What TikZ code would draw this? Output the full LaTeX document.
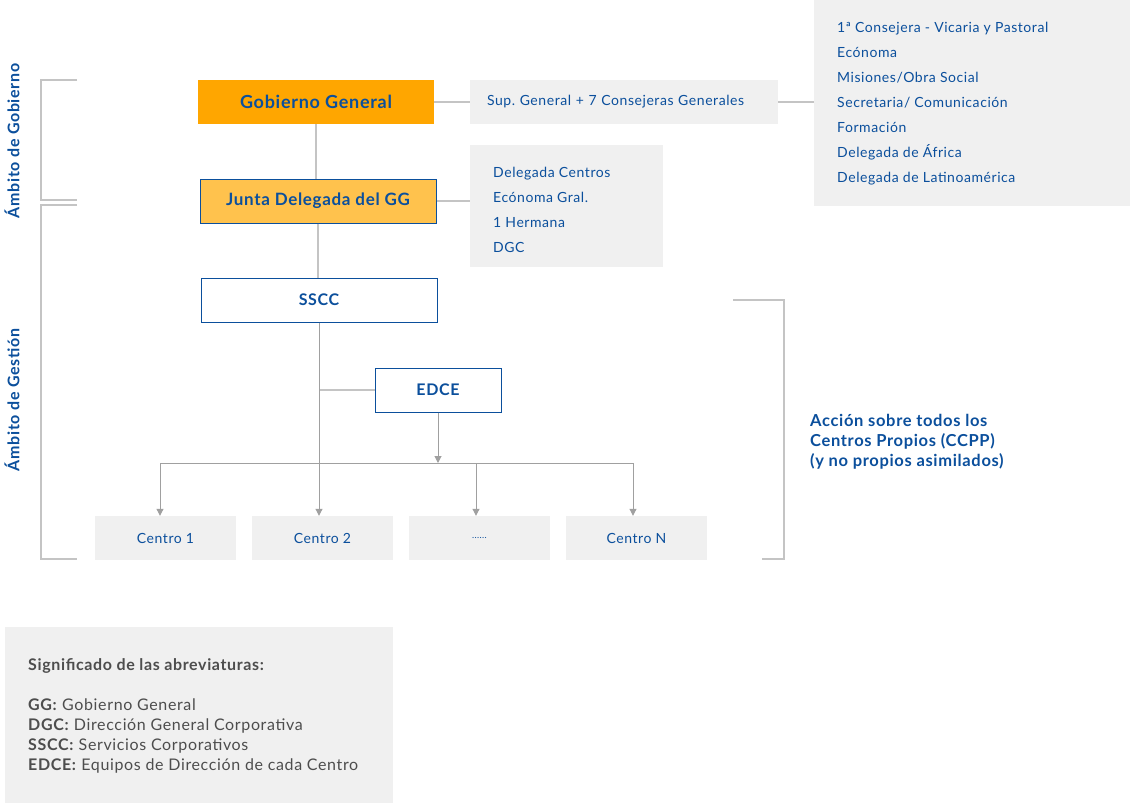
\documentclass[tikz,border=0pt]{standalone}
\usepackage{fontspec}
\setmainfont{Lato}[LetterSpace=4]
\frenchspacing
\usetikzlibrary{arrows.meta}
\definecolor{tblue}{HTML}{0B4F9C}
\definecolor{orangeA}{HTML}{FFA600}
\definecolor{orangeB}{HTML}{FFC24D}
\definecolor{boxgray}{HTML}{F0F0F0}
\definecolor{linegray}{HTML}{C4C4C4}
\definecolor{arrgray}{HTML}{A0A0A0}
\definecolor{legtext}{HTML}{4D4D4D}
\tikzset{
  mainbox/.style={rectangle, minimum width=236pt, minimum height=44pt, inner sep=0pt, text=tblue, font=\fontsize{16}{19}\selectfont\bfseries},
  graybox/.style={rectangle, fill=boxgray, inner sep=0pt},
  centrobox/.style={graybox, minimum width=141pt, minimum height=44pt, text=tblue, font=\fontsize{14}{16}\selectfont},
  conn/.style={draw=linegray, line width=1.3pt},
  arr/.style={draw=arrgray, line width=1pt, -{Triangle[length=7pt,width=7pt]}},
  brk/.style={draw=linegray, line width=1.3pt},
  listtext/.style={anchor=north west, align=left, text=tblue, inner sep=0pt},
}
\begin{document}
\begin{tikzpicture}[x=1pt,y=-1pt]
\useasboundingbox (0,0) rectangle (1130,803);

% main boxes
\node[mainbox, fill=orangeA, font=\fontsize{18}{20}\selectfont\bfseries] (gg) at (316,102) {Gobierno General};
\node[mainbox, fill=orangeB, draw=tblue, line width=1pt, font=\fontsize{17}{19}\selectfont\bfseries] (junta) at (318,201) {Junta Delegada del GG};
\node[mainbox, fill=white, draw=tblue, line width=1pt] (sscc) at (319,300) {SSCC};
\node[mainbox, fill=white, draw=tblue, line width=1pt, minimum width=126pt] (edce) at (438,390) {EDCE};

% side boxes
\node[graybox, minimum width=308pt, minimum height=44pt, text width=274pt, align=left, text=tblue, font=\fontsize{14}{16}\selectfont] (sup) at (624,102) {Sup.\ General + 7 Consejeras Generales};
\node[graybox, minimum width=193pt, minimum height=122pt, anchor=north west] (dele) at (470,145) {};
\node[listtext, font=\fontsize{14}{25}\selectfont] (delet) at (493,167) {Delegada Centros\\Ecónoma Gral.\\1 Hermana\\DGC};
\node[graybox, minimum width=316pt, minimum height=206pt, anchor=north west] (cons) at (814,0) {};
\node[listtext, font=\fontsize{14}{25}\selectfont] (const) at (837,22) {1ª Consejera - Vicaria y Pastoral\\Ecónoma\\Misiones/Obra Social\\Secretaria/ Comunicación\\Formación\\Delegada de África\\Delegada de Latinoamérica};

% centros
\node[centrobox] (c1) at (165.5,538) {Centro 1};
\node[centrobox] (c2) at (322.5,538) {Centro 2};
\node[centrobox] (c3) at (479.5,538) {\fontsize{9}{11}\selectfont ......};
\node[centrobox] (c4) at (636.5,538) {Centro N};

% connectors
\draw[conn] (gg.south) -- (gg.south |- junta.north);
\draw[conn] (junta.south) -- (junta.south |- sscc.north);
\draw[conn] (gg.east) -- (sup.west);
\draw[conn] (sup.east) -- (sup.east -| cons.west);
\draw[conn] (junta.east) -- (junta.east -| dele.west);
\draw[conn] (sscc.south |- edce.west) -- (edce.west);
\draw[arr] (sscc.south) -- (sscc.south |- c2.north);
\coordinate (b1) at (160,463);
\coordinate (b3) at (476,463);
\coordinate (b4) at (633,463);
\draw[arr] (edce.south) -- (edce.south |- b1);
\draw[draw=arrgray, line width=1pt] (b1) -- (b4);
\draw[arr] (b1) -- (b1 |- c1.north);
\draw[arr] (b3) -- (b3 |- c3.north);
\draw[arr] (b4) -- (b4 |- c4.north);

% left brackets
\draw[brk] (77,80) -- (41,80) -- (41,200) -- (77,200);
\draw[brk] (77,205) -- (41,205) -- (41,559) -- (77,559);
\node[rotate=90, text=tblue, font=\fontsize{16}{18}\selectfont\bfseries] (lgob) at (12,141) {Ámbito de Gobierno};
\node[rotate=90, text=tblue, font=\fontsize{16}{18}\selectfont\bfseries] (lges) at (12,400) {Ámbito de Gestión};

% right bracket
\draw[brk] (733,300) -- (784,300) -- (784,559) -- (762,559);
\node[anchor=north west, align=left, text=tblue, inner sep=0pt, font=\fontsize{16.5}{20}\selectfont\bfseries] (accion) at (810,414) {Acción sobre todos los\\Centros Propios (CCPP)\\(y no propios asimilados)};

% legend
\node[graybox, minimum width=388pt, minimum height=176pt, anchor=north west] (leg) at (5,627) {};
\node[anchor=north west, align=left, text=legtext, inner sep=0pt, font=\fontsize{16}{20}\selectfont] (legt) at (28,658) {\textbf{Significado de las abreviaturas:}\\[20pt]\textbf{GG:} Gobierno General\\\textbf{DGC:} Dirección General Corporativa\\\textbf{SSCC:} Servicios Corporativos\\\textbf{EDCE:} Equipos de Dirección de cada Centro};
\end{tikzpicture}
\end{document}
